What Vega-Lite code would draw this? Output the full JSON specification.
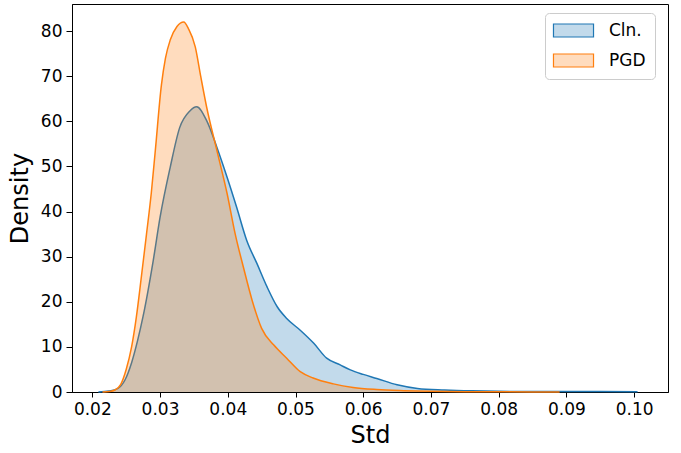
{
  "$schema": "https://vega.github.io/schema/vega-lite/v6.json",
  "width": 596,
  "height": 388,
  "autosize": "none",
  "padding": {"left": 72, "top": 4, "right": 13, "bottom": 61},
  "config": {
    "font": "DejaVu Sans",
    "view": {"stroke": "black", "strokeWidth": 1},
    "axis": {
      "grid": false,
      "domainColor": "black",
      "tickColor": "black",
      "labelColor": "black",
      "titleColor": "black",
      "labelFont": "DejaVu Sans",
      "titleFont": "DejaVu Sans",
      "labelFontSize": 17,
      "titleFontSize": 24,
      "titleFontWeight": "normal",
      "tickSize": 5,
      "labelPadding": 4
    }
  },
  "data": {
    "values": [
      {"series": "Cln.", "x": 0.0209, "y": 0},
      {"series": "Cln.", "x": 0.0225, "y": 0.2},
      {"series": "Cln.", "x": 0.0238, "y": 0.8},
      {"series": "Cln.", "x": 0.0248, "y": 2.6},
      {"series": "Cln.", "x": 0.0258, "y": 6.5},
      {"series": "Cln.", "x": 0.0267, "y": 11.5},
      {"series": "Cln.", "x": 0.0275, "y": 16.8},
      {"series": "Cln.", "x": 0.0290, "y": 29.2},
      {"series": "Cln.", "x": 0.0300, "y": 38.7},
      {"series": "Cln.", "x": 0.0315, "y": 49.8},
      {"series": "Cln.", "x": 0.0329, "y": 58.6},
      {"series": "Cln.", "x": 0.0344, "y": 62.3},
      {"series": "Cln.", "x": 0.0354, "y": 63.2},
      {"series": "Cln.", "x": 0.0369, "y": 60.1},
      {"series": "Cln.", "x": 0.0384, "y": 54.2},
      {"series": "Cln.", "x": 0.0399, "y": 47.6},
      {"series": "Cln.", "x": 0.0413, "y": 41},
      {"series": "Cln.", "x": 0.0428, "y": 33.6},
      {"series": "Cln.", "x": 0.0443, "y": 28.5},
      {"series": "Cln.", "x": 0.0458, "y": 23.3},
      {"series": "Cln.", "x": 0.0473, "y": 18.9},
      {"series": "Cln.", "x": 0.0487, "y": 16.3},
      {"series": "Cln.", "x": 0.0507, "y": 13.7},
      {"series": "Cln.", "x": 0.0527, "y": 10.8},
      {"series": "Cln.", "x": 0.0546, "y": 7.5},
      {"series": "Cln.", "x": 0.0566, "y": 6.0},
      {"series": "Cln.", "x": 0.0581, "y": 4.9},
      {"series": "Cln.", "x": 0.0600, "y": 3.9},
      {"series": "Cln.", "x": 0.0620, "y": 3.0},
      {"series": "Cln.", "x": 0.0650, "y": 1.6},
      {"series": "Cln.", "x": 0.0680, "y": 0.8},
      {"series": "Cln.", "x": 0.0720, "y": 0.45},
      {"series": "Cln.", "x": 0.0760, "y": 0.25},
      {"series": "Cln.", "x": 0.0800, "y": 0.15},
      {"series": "Cln.", "x": 0.0850, "y": 0.1},
      {"series": "Cln.", "x": 0.0900, "y": 0.1},
      {"series": "Cln.", "x": 0.0950, "y": 0.09},
      {"series": "Cln.", "x": 0.1005, "y": 0.05},
      {"series": "PGD", "x": 0.0215, "y": 0},
      {"series": "PGD", "x": 0.0225, "y": 0.1},
      {"series": "PGD", "x": 0.0234, "y": 0.5},
      {"series": "PGD", "x": 0.0242, "y": 1.7},
      {"series": "PGD", "x": 0.0250, "y": 5.0},
      {"series": "PGD", "x": 0.0258, "y": 10},
      {"series": "PGD", "x": 0.0265, "y": 16.6},
      {"series": "PGD", "x": 0.0272, "y": 25},
      {"series": "PGD", "x": 0.0280, "y": 35},
      {"series": "PGD", "x": 0.0287, "y": 44},
      {"series": "PGD", "x": 0.0293, "y": 53.5},
      {"series": "PGD", "x": 0.0302, "y": 68},
      {"series": "PGD", "x": 0.0308, "y": 74},
      {"series": "PGD", "x": 0.0315, "y": 78},
      {"series": "PGD", "x": 0.0325, "y": 81},
      {"series": "PGD", "x": 0.0335, "y": 82},
      {"series": "PGD", "x": 0.0342, "y": 80.5},
      {"series": "PGD", "x": 0.0352, "y": 76.5},
      {"series": "PGD", "x": 0.0360, "y": 70},
      {"series": "PGD", "x": 0.0369, "y": 63},
      {"series": "PGD", "x": 0.0384, "y": 53.5},
      {"series": "PGD", "x": 0.0399, "y": 44},
      {"series": "PGD", "x": 0.0411, "y": 35},
      {"series": "PGD", "x": 0.0423, "y": 27.7},
      {"series": "PGD", "x": 0.0436, "y": 20.3},
      {"series": "PGD", "x": 0.0450, "y": 14.1},
      {"series": "PGD", "x": 0.0468, "y": 10.4},
      {"series": "PGD", "x": 0.0487, "y": 7.5},
      {"series": "PGD", "x": 0.0507, "y": 4.5},
      {"series": "PGD", "x": 0.0526, "y": 3.1},
      {"series": "PGD", "x": 0.0556, "y": 1.8},
      {"series": "PGD", "x": 0.0585, "y": 1.0},
      {"series": "PGD", "x": 0.0620, "y": 0.55},
      {"series": "PGD", "x": 0.0660, "y": 0.3},
      {"series": "PGD", "x": 0.0700, "y": 0.15},
      {"series": "PGD", "x": 0.0750, "y": 0.08},
      {"series": "PGD", "x": 0.0800, "y": 0.04},
      {"series": "PGD", "x": 0.0850, "y": 0.02},
      {"series": "PGD", "x": 0.0890, "y": 0}
    ]
  },
  "encoding": {
    "x": {
      "field": "x", "type": "quantitative", "title": "Std",
      "scale": {"domain": [0.017, 0.105], "nice": false, "zero": false},
      "axis": {"values": [0.02, 0.03, 0.04, 0.05, 0.06, 0.07, 0.08, 0.09, 0.10], "format": ".2f", "titlePadding": 6}
    },
    "y": {
      "field": "y", "type": "quantitative", "title": "Density",
      "scale": {"domain": [0, 86], "nice": false},
      "axis": {"values": [0, 10, 20, 30, 40, 50, 60, 70, 80], "tickSize": 6, "titlePadding": 8}
    }
  },
  "layer": [
    {
      "transform": [{"filter": "datum.series === 'Cln.'"}],
      "mark": {"type": "area", "fillOpacity": 0.27, "interpolate": "monotone"},
      "encoding": {
        "fill": {
          "field": "series", "type": "nominal",
          "scale": {"domain": ["Cln.", "PGD"], "range": ["#1f77b4", "#ff7f0e"]},
          "legend": {
            "title": null,
            "orient": "none",
            "legendX": 473,
            "legendY": 9,
            "padding": 9,
            "strokeColor": "#cccccc",
            "fillColor": "white",
            "cornerRadius": 4,
            "labelFont": "DejaVu Sans",
            "labelFontSize": 17,
            "labelColor": "black",
            "symbolType": "M-2.86,-0.93H2.86V0.93H-2.86Z",
            "symbolSize": 196,
            "symbolStrokeWidth": 1.2,
            "symbolOffset": 11,
            "labelOffset": 27,
            "rowPadding": 11,
            "encode": {
              "symbols": {
                "update": {
                  "fillOpacity": {"value": 0.27},
                  "strokeOpacity": {"value": 1}
                }
              }
            }
          }
        }
      }
    },
    {
      "transform": [{"filter": "datum.series === 'Cln.'"}],
      "mark": {"type": "line", "strokeWidth": 1.5, "interpolate": "monotone"},
      "encoding": {
        "stroke": {
          "field": "series", "type": "nominal",
          "scale": {"domain": ["Cln.", "PGD"], "range": ["#1f77b4", "#ff7f0e"]}
        }
      }
    },
    {
      "transform": [{"filter": "datum.series === 'PGD'"}],
      "mark": {"type": "area", "fillOpacity": 0.27, "interpolate": "monotone"},
      "encoding": {
        "fill": {"field": "series", "type": "nominal"}
      }
    },
    {
      "transform": [{"filter": "datum.series === 'PGD'"}],
      "mark": {"type": "line", "strokeWidth": 1.5, "interpolate": "monotone"},
      "encoding": {
        "stroke": {"field": "series", "type": "nominal"}
      }
    }
  ]
}
